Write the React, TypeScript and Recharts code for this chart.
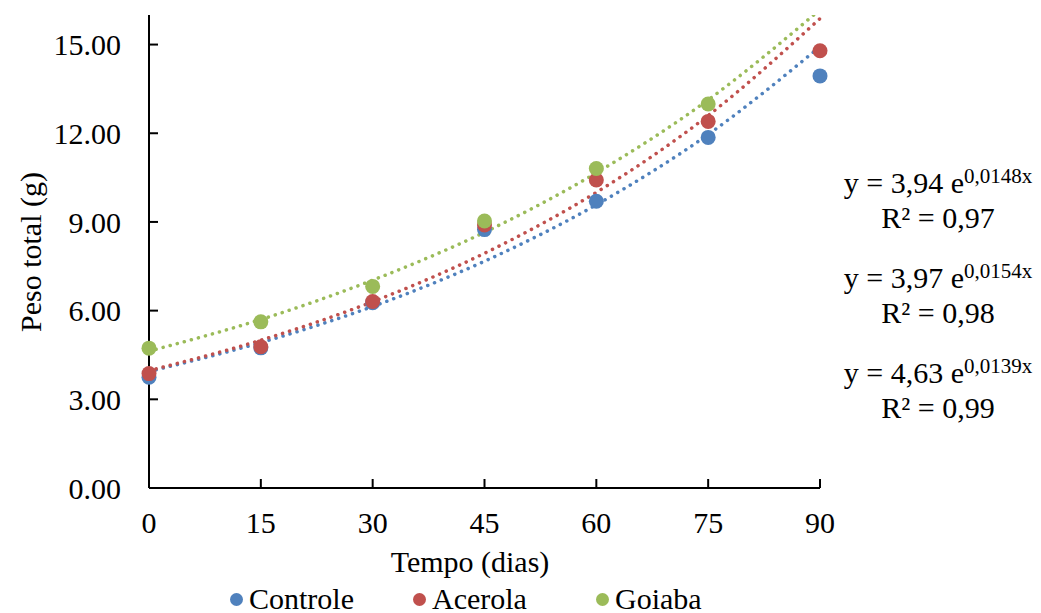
import React from 'react';
import { ComposedChart, Scatter, Line, XAxis, YAxis } from 'recharts';

// dias de armazenamento
const dias = [0, 15, 30, 45, 60, 75, 90];
const ticksX = [0, 15, 30, 45, 60, 75, 90];
const ticksY = [0, 3, 6, 9, 12, 15];

// peso total observado (g)
const controle = [3.75, 4.74, 6.27, 8.74, 9.70, 11.86, 13.94];
const acerola = [3.87, 4.78, 6.31, 8.9, 10.42, 12.4, 14.79];
const goiaba = [4.73, 5.62, 6.82, 9.03, 10.81, 12.99];

const controleTend = [3.94, 4.92, 6.14, 7.67, 9.58, 11.96, 14.93];
const acerolaTend = [3.97, 5.0, 6.3, 7.94, 10.0, 12.6, 15.88];
const goiabaTend = [4.63, 5.7, 7.03, 8.65, 10.66, 13.13, 16.18];

const equacoes = [
    { a: '3,94', b: '0,0148', r2: '0,97' },
    { a: '3,97', b: '0,0154', r2: '0,98' },
    { a: '4,63', b: '0,0139', r2: '0,99' },
];

const series = [
    { name: 'Controle', valores: controle, tend: controleTend, cor: '#4F81BD' },
    { name: 'Acerola', valores: acerola, tend: acerolaTend, cor: '#C0504D' },
    { name: 'Goiaba', valores: goiaba, tend: goiabaTend, cor: '#9BBB59' },
];

const FONT = 'Liberation Serif';
const FS = 30;

const toPontos = (vals: number[]) => vals.map((v, i) => ({ dia: dias[i], peso: v }));

const App: React.FC = () => {
    const tickStyle = { fontSize: FS, fill: '#000', fontFamily: FONT };

    return (
        <div style={{ position: 'absolute', left: 0, top: 0, width: 1041, height: 613, fontFamily: FONT, background: '#fff' }}>
            <ComposedChart width={1041} height={613} margin={{ top: 15, right: 221, left: 0, bottom: 75 }} style={{ fontFamily: FONT }}>
                <XAxis
                    type="number"
                    dataKey="dia"
                    domain={[0, 90]}
                    ticks={ticksX}
                    height={50}
                    tickSize={-9}
                    tickMargin={33}
                    tick={tickStyle}
                    axisLine={{ stroke: '#000', strokeWidth: 2 }}
                    tickLine={{ stroke: '#000', strokeWidth: 2 }}
                />
                <YAxis
                    type="number"
                    domain={[0, 16]}
                    ticks={ticksY}
                    allowDataOverflow
                    width={149}
                    tickSize={-9}
                    tickMargin={37}
                    tick={tickStyle}
                    tickFormatter={(v: number) => v.toFixed(2)}
                    axisLine={{ stroke: '#000', strokeWidth: 2 }}
                    tickLine={{ stroke: '#000', strokeWidth: 2 }}
                    label={{
                        content: () => (
                            <text
                                x={30}
                                y={252}
                                transform="rotate(-90 30 252)"
                                textAnchor="middle"
                                dominantBaseline="central"
                                fontFamily={FONT}
                                fontSize={FS}
                                fill="#000"
                            >
                                Peso total (g)
                            </text>
                        ),
                    }}
                />
                {series.map(s => (
                    <Scatter
                        key={s.name}
                        name={s.name}
                        data={toPontos(s.valores)}
                        dataKey="peso"
                        fill={s.cor}
                        shape={(p: any) => <circle cx={p.cx} cy={p.cy} r={7.5} fill={s.cor} />}
                        isAnimationActive={false}
                    />
                ))}
                {series.map(s => (
                    <Line
                        key={s.name + '-tend'}
                        data={toPontos(s.tend)}
                        dataKey="peso"
                        type="monotone"
                        stroke={s.cor}
                        strokeWidth={3.5}
                        strokeDasharray="0.1 7.2"
                        strokeLinecap="round"
                        dot={false}
                        activeDot={false}
                        legendType="none"
                        isAnimationActive={false}
                    />
                ))}
            </ComposedChart>

            <div style={{ position: 'absolute', left: 320, width: 300, top: 547, textAlign: 'center', fontSize: FS, lineHeight: '30px' }}>
                Tempo (dias)
            </div>

            {series.map((s, i) => (
                <div
                    key={s.name}
                    style={{ position: 'absolute', left: 230 + i * 183, top: 584, width: 183, height: 30, display: 'flex', alignItems: 'center', fontSize: FS, lineHeight: '30px' }}
                >
                    <span style={{ display: 'inline-block', width: 13, height: 13, borderRadius: '50%', background: s.cor, marginRight: 6 }} />
                    {s.name}
                </div>
            ))}

            {equacoes.map((e, i) => (
                <React.Fragment key={i}>
                    <div style={{ position: 'absolute', left: 832, width: 212, top: 168 + i * 95, textAlign: 'center', fontSize: FS, lineHeight: '30px', whiteSpace: 'nowrap' }}>
                        y = {e.a} e<span style={{ fontSize: 21, position: 'relative', top: -10 }}>{e.b}x</span>
                    </div>
                    <div style={{ position: 'absolute', left: 832, width: 212, top: 203 + i * 95, textAlign: 'center', fontSize: FS, lineHeight: '30px', whiteSpace: 'nowrap' }}>
                        R² = {e.r2}
                    </div>
                </React.Fragment>
            ))}
        </div>
    );
};

export default App;
